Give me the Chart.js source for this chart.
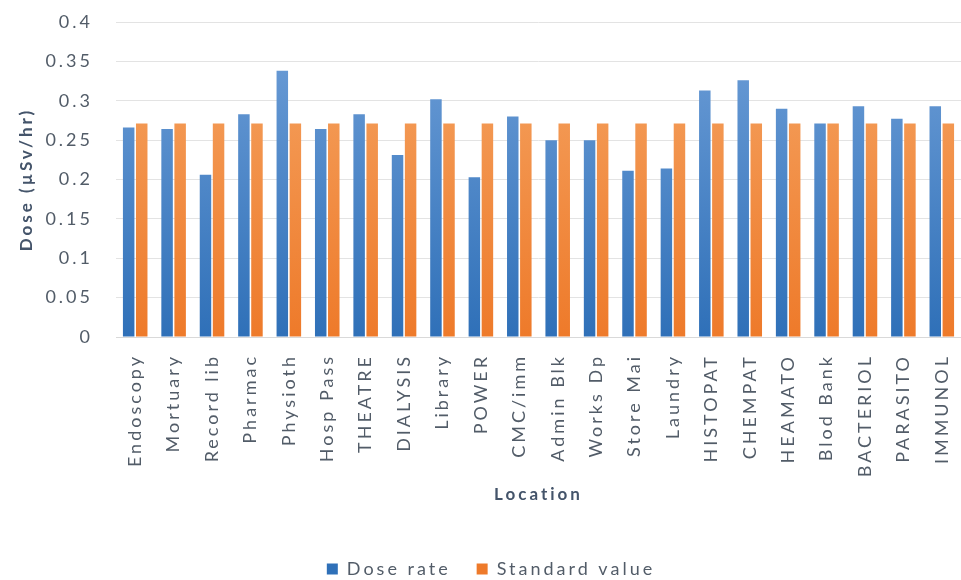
<!DOCTYPE html>
<html>
<head>
<meta charset="utf-8">
<script src="https://cdn.jsdelivr.net/npm/chart.js@4.4.1/dist/chart.umd.min.js"></script>
<style>
  html, body { margin: 0; padding: 0; background: #fff; }
  #wrap { width: 961px; height: 580px; }
</style>
</head>
<body>
<div id="wrap"><canvas id="doseChart"></canvas></div>
<script>
const locations = ["Endoscopy", "Mortuary", "Record lib", "Pharmac", "Physioth", "Hosp Pass", "THEATRE", "DIALYSIS", "Library", "POWER", "CMC/imm", "Admin Blk", "Works Dp", "Store Mai", "Laundry", "HISTOPAT", "CHEMPAT", "HEAMATO", "Blod Bank", "BACTERIOL", "PARASITO", "IMMUNOL"];
const doseRate = [0.266, 0.264, 0.206, 0.283, 0.338, 0.264, 0.283, 0.231, 0.302, 0.203, 0.280, 0.250, 0.250, 0.211, 0.214, 0.313, 0.326, 0.290, 0.271, 0.293, 0.277, 0.293];
const standardValue = [0.271, 0.271, 0.271, 0.271, 0.271, 0.271, 0.271, 0.271, 0.271, 0.271, 0.271, 0.271, 0.271, 0.271, 0.271, 0.271, 0.271, 0.271, 0.271, 0.271, 0.271, 0.271];
const yTickLabels = ["0", "0.05", "0.1", "0.15", "0.2", "0.25", "0.3", "0.35", "0.4"];

const textColor = "#525c68";
const titleColor = "#44546a";

function gradientFill(light, dark) {
  return ctx => {
    const area = ctx.chart.chartArea;
    if (!area) return dark;
    const g = ctx.chart.ctx.createLinearGradient(0, area.top, 0, area.bottom);
    g.addColorStop(0, light);
    g.addColorStop(1, dark);
    return g;
  };
}

// the reference text is widely spaced, so use canvas letterSpacing
const spacing = {
  id: "spacing",
  beforeLayout(chart) { chart.ctx.letterSpacing = "3px"; },
  beforeDraw(chart) { chart.ctx.letterSpacing = "3px"; }
};

new Chart(document.getElementById("doseChart"), {
  type: "bar",
  data: {
    labels: locations,
    datasets: [
      {
        label: "Dose rate",
        data: doseRate,
        backgroundColor: gradientFill("#6f9fd8", "#2f70b8"),
        categoryPercentage: 0.68,
        barPercentage: 0.88
      },
      {
        label: "Standard value",
        data: standardValue,
        backgroundColor: gradientFill("#f5a564", "#ee7a2a"),
        categoryPercentage: 0.68,
        barPercentage: 0.88
      }
    ]
  },
  options: {
    responsive: true, maintainAspectRatio: false, animation: false,
    layout: { padding: { left: 14, right: -7, top: 22, bottom: -8 } },
    plugins: {
      tooltip: { enabled: false },
      legend: {
        position: "bottom",
        labels: {
          boxWidth: 11, boxHeight: 11, padding: 26,
          color: textColor,
          font: { family: "Lato", size: 18 }
        }
      }
    },
    scales: {
      x: {
        // plot runs a little past the right edge, as in the reference
        afterFit: s => { s.height = 197; s.paddingLeft = 0; s.paddingRight = -7; },
        grid: { display: false },
        border: { color: "#d9d9d9" },
        ticks: {
          autoSkip: false, maxRotation: 90, minRotation: 90, padding: 9,
          color: textColor, font: { family: "Lato", size: 18 }
        },
        title: {
          display: true, text: "Location", color: titleColor,
          font: { family: "Lato", size: 17, weight: "bold" },
          padding: { top: 0, bottom: 29 }
        }
      },
      y: {
        min: 0, max: 0.4,
        afterFit: s => { s.width = 102; s.paddingTop = 0; s.paddingBottom = 0; },
        border: { display: false },
        grid: { color: "#e3e3e3", drawTicks: false },
        ticks: {
          stepSize: 0.05, padding: 23,
          color: textColor, font: { family: "Lato", size: 18 },
          callback: (v, i) => yTickLabels[i]
        },
        title: {
          display: true, text: "Dose (µSv/hr)", color: titleColor,
          font: { family: "Lato", size: 17, weight: "bold" },
          padding: { top: 2, bottom: 0 }
        }
      }
    }
  },
  plugins: [spacing]
});
</script>
</body>
</html>
